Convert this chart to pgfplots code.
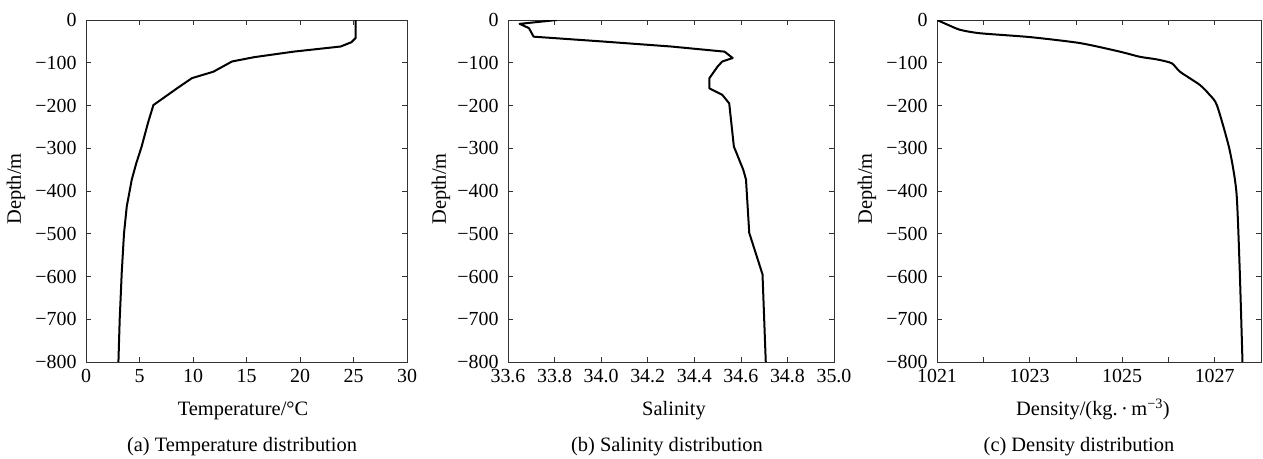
\documentclass[border=0pt]{standalone}
\usepackage{pgfplots}
\pgfplotsset{compat=1.18}
\usepackage{fontspec}
\setmainfont{Liberation Serif}
\begin{document}
\begin{tikzpicture}[x=1bp,y=1bp]
\path[use as bounding box] (0bp,0bp) rectangle (1263bp,459bp);
\pgfplotsset{myax/.style={anchor=south west, scale only axis, height=342bp,
  ymin=-800, ymax=0, ytick={-800,-700,...,0},
  yticklabels={−800,−700,−600,−500,−400,−300,−200,−100,0},
  tick align=inside, major tick length=5bp,
  xtick pos=both, ytick pos=both,
  tick style={black!80, line width=0.6bp},
  axis line style={black!80, line width=0.8bp},
  tick label style={font=\fontsize{20}{23}\selectfont},
  xticklabel style={yshift=-3.5bp}, yticklabel style={xshift=-6bp},
  cycle list={black},
  every axis plot post/.append style={black, line width=2bp, line join=round, mark=none}}}
% (a) temperature
\begin{axis}[myax, at={(86bp,97bp)}, width=321bp, xmin=0, xmax=30,
  xtick={0,5,...,30}, xticklabels={0,5,10,15,20,25,30}]
\addplot coordinates {
(25.2,0) (25.2,-42) (24.8,-52) (23.8,-62) (19.4,-74) (15.7,-87) (13.65,-97)
(11.9,-121) (9.9,-136) (8.5,-160) (6.3,-199) (5.8,-240) (5.2,-296) (4.7,-335)
(4.28,-373) (3.81,-436) (3.55,-500) (3.34,-591) (3.15,-700) (3.03,-800)};
\end{axis}
% (b) salinity
\begin{axis}[myax, at={(508bp,97bp)}, width=326bp, xmin=33.6, xmax=35.0,
  xtick={33.6,33.8,...,35.0},
  xticklabels={33.6,33.8,34.0,34.2,34.4,34.6,34.8,35.0}]
\addplot coordinates {
(33.81,0) (33.65,-9) (33.69,-19) (33.71,-39) (34.00,-50) (34.30,-62) (34.53,-74)
(34.565,-89) (34.52,-97) (34.50,-109) (34.465,-136) (34.465,-160) (34.52,-175)
(34.55,-195) (34.57,-296) (34.61,-350) (34.622,-373) (34.636,-498)
(34.693,-595) (34.707,-800)};
\end{axis}
% (c) density
\begin{axis}[myax, at={(937bp,97bp)}, width=324bp, xmin=1021, xmax=1028,
  xtick={1021,...,1028}, xticklabels={1021,,1023,,1025,,1027,}]
\addplot+[smooth, tension=0.4] coordinates {
(1021.0,0) (1021.25,-12) (1021.50,-23) (1021.93,-31) (1023.01,-40) (1024.09,-54)
(1024.95,-74) (1025.38,-86) (1025.74,-92) (1026.07,-101) (1026.25,-121)
(1026.68,-152) (1026.89,-175) (1027.05,-200) (1027.32,-303) (1027.47,-404)
(1027.54,-584) (1027.60,-800)};
\end{axis}
\begin{scope}[every node/.style={font=\fontsize{20.5}{24}\selectfont, inner sep=0pt}]
\node[rotate=90, anchor=center] at (16bp,270bp) {Depth/m};
\node[rotate=90, anchor=center] at (441bp,270bp) {Depth/m};
\node[rotate=90, anchor=center] at (867bp,270bp) {Depth/m};
\node[anchor=base] at (243bp,43bp) {Temperature/°C};
\node[anchor=base] at (674bp,43bp) {Salinity};
\node[anchor=base] at (1093bp,43bp) {Density/(kg.\,·\,m\textsuperscript{−3})};
\node[anchor=base] at (242bp,8bp) {(a) Temperature distribution};
\node[anchor=base] at (667bp,8bp) {(b) Salinity distribution};
\node[anchor=base] at (1079bp,8bp) {(c) Density distribution};
\end{scope}
\end{tikzpicture}
\end{document}
